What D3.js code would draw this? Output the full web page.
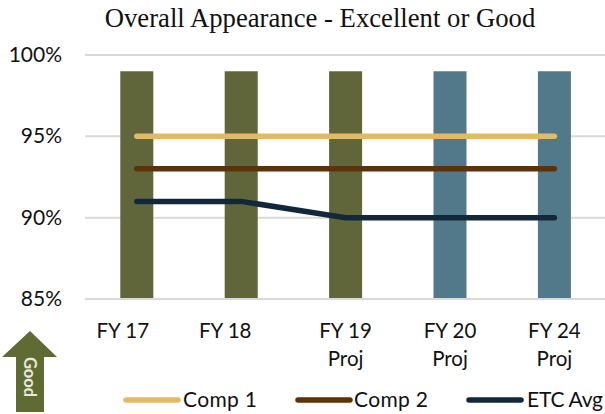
<!DOCTYPE html>
<html><head><meta charset="utf-8">
<script src="https://cdnjs.cloudflare.com/ajax/libs/d3/7.8.5/d3.min.js"></script>
<style>html,body{margin:0;padding:0;background:#fff}svg{display:block}</style>
</head><body><svg id="c" width="605" height="414"></svg>
<script>
const categories = ["FY 17","FY 18","FY 19|Proj","FY 20|Proj","FY 24|Proj"];
const barValues = [99,99,99,99,99];
const barColors = ["#60663a","#60663a","#60663a","#51798a","#51798a"];
const comp1 = [95,95,95,95,95];
const comp2 = [93,93,93,93,93];
const etcAvg = [91,91,90,90,90];
const yTicks = [85,90,95,100];
const seriesNames = ["Comp 1","Comp 2","ETC Avg"];
const seriesColors = ["#e3b968","#5e3208","#12283a"];
const titleText = "Overall Appearance - Excellent or Good";

const svg = d3.select("#c");
const sans = "Lato, 'Open Sans', sans-serif";
const x = d3.scaleBand().domain(categories).range([84.6,606.6]).padding(0);
const y = d3.scaleLinear().domain([85,100]).range([299,55]);

svg.append("text").attr("x",320).attr("y",27).attr("text-anchor","middle")
  .attr("font-family","'Liberation Serif',serif").attr("font-size",26.7).attr("fill","#111").text(titleText);

svg.append("g").selectAll("line").data(yTicks).join("line")
  .attr("x1",85).attr("x2",605).attr("y1",d=>y(d)).attr("y2",d=>y(d))
  .attr("stroke","#d9d9d9").attr("stroke-width",2);
svg.append("g").selectAll("text").data(yTicks).join("text")
  .attr("x",62).attr("y",d=>y(d)+7).attr("text-anchor","end")
  .attr("font-family",sans).attr("font-size",21).attr("fill","#111").text(d=>d+"%");

const bw = 33;
svg.append("g").selectAll("rect").data(categories).join("rect")
  .attr("x",d=>x(d)+x.bandwidth()/2-bw/2).attr("width",bw)
  .attr("y",(d,i)=>y(barValues[i])).attr("height",(d,i)=>y(85)-y(barValues[i])-1)
  .attr("fill",(d,i)=>barColors[i]);

const line = d3.line().x((d,i)=>x(categories[i])+x.bandwidth()/2).y(d=>y(d));
[comp1,comp2,etcAvg].forEach((s,k)=>{
  svg.append("path").datum(s).attr("d",line).attr("fill","none")
    .attr("stroke",seriesColors[k]).attr("stroke-width",5.5).attr("stroke-linecap","round");
});

const labelShift = [-14,-16,0,0,0];
const lab = svg.append("g").attr("font-family",sans).attr("font-size",20.5).attr("fill","#111").attr("text-anchor","middle");
categories.forEach((c,k)=>{
  c.split("|").forEach((t,i)=>{
    lab.append("text").attr("x",x(c)+x.bandwidth()/2+labelShift[k]).attr("y",338+i*28).text(t);
  });
});

const legX = [126,298,469], legT=[183,354,527], legW=[74,74,76];
seriesNames.forEach((n,i)=>{
  svg.append("line").attr("x1",legX[i]).attr("x2",legX[i]+52).attr("y1",400).attr("y2",400)
    .attr("stroke",seriesColors[i]).attr("stroke-width",5.5).attr("stroke-linecap","round");
  svg.append("text").attr("x",legT[i]).attr("y",407).attr("font-family",sans).attr("font-size",21)
    .attr("textLength",legW[i]).attr("lengthAdjust","spacing").attr("fill","#111").text(n);
});

svg.append("path").attr("d","M30 331L57 357H44V412H16V357H2Z").attr("fill","#5f6b33");
svg.append("text").attr("transform","translate(30,377) rotate(90)").attr("text-anchor","middle").attr("dy",6)
  .attr("font-family",sans).attr("font-weight",700).attr("font-size",16.5).attr("fill","#e8e8dc").text("Good");
</script></body></html>
